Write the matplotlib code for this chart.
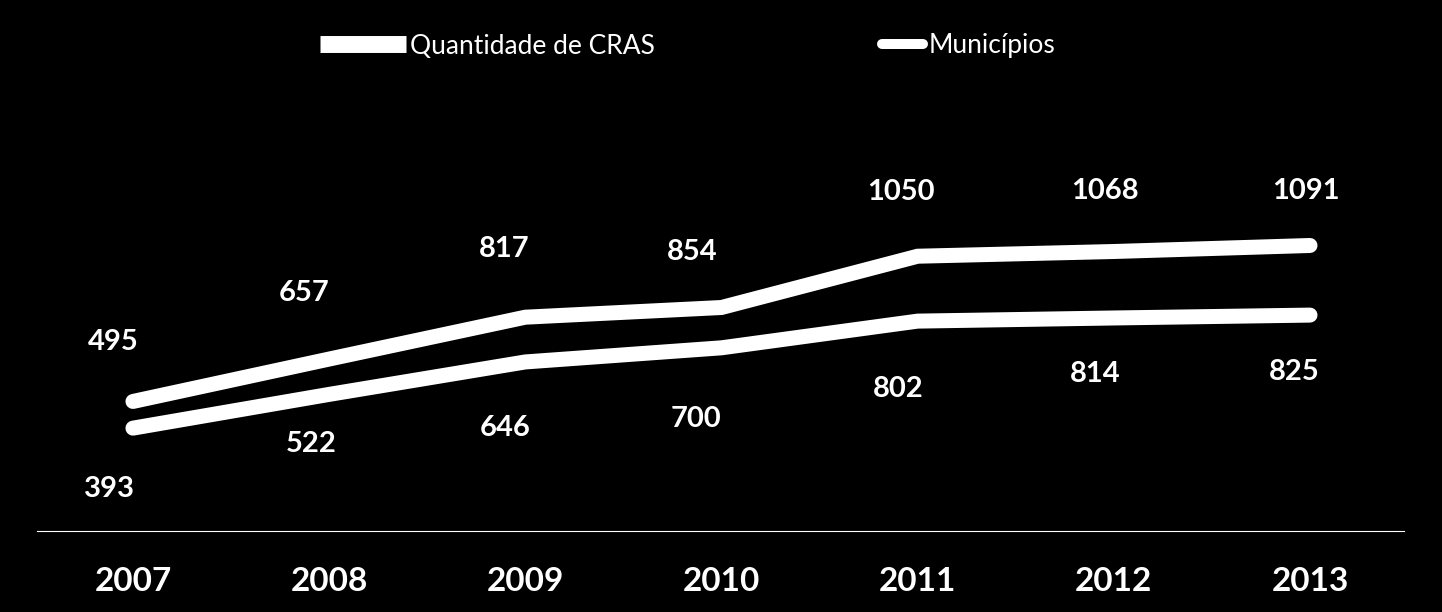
import matplotlib
matplotlib.use('Agg')
import matplotlib.pyplot as plt
from matplotlib.lines import Line2D

# ---- data ----
years = ['2007', '2008', '2009', '2010', '2011', '2012', '2013']
cras = [495, 657, 817, 854, 1050, 1068, 1091]
municipios = [393, 522, 646, 700, 802, 814, 825]
series_names = ['Quantidade de CRAS', 'Municípios']

# ---- label placement (pixel offsets of label centre from the point) ----
cras_dx = [-20, -25, -21, -29, -17, -9, -4]
cras_dy = [62, 69, 71, 58, 67, 63, 57]
mun_dx = [-23, -18, -20, -26, -19, -19, -16]
mun_dy = [-58, -47, -64, -69, -65, -54, -54]

plt.rcParams['font.family'] = ['Lato', 'DejaVu Sans']

W, H = 1442, 612
fig = plt.figure(figsize=(W / 100, H / 100), dpi=100, facecolor='black')
ax_left, ax_right, ax_bottom = 37, 1404, 531
ax = fig.add_axes([ax_left / W, (H - ax_bottom) / H, (ax_right - ax_left) / W, ax_bottom / H],
                  facecolor='black')

x = list(range(len(years)))
line_kw = dict(color='white', lw=10.8, solid_capstyle='round', solid_joinstyle='miter')
ax.plot(x, cras, **line_kw)
ax.plot(x, municipios, **line_kw)

ax.set_xlim(-0.489, 6.479)
ax.set_ylim(0, 531 / 0.2617)

digit_half = 10.5  # px, half digit height (to place by baseline)
for i, v in enumerate(cras):
    ax.annotate(str(v), (i, v), xytext=(cras_dx[i], cras_dy[i] - digit_half),
                textcoords='offset pixels', ha='center', va='baseline',
                color='white', fontsize=21, fontweight='bold')
for i, v in enumerate(municipios):
    ax.annotate(str(v), (i, v), xytext=(mun_dx[i], mun_dy[i] - digit_half),
                textcoords='offset pixels', ha='center', va='baseline',
                color='white', fontsize=21, fontweight='bold')

for s in ['top', 'right', 'left']:
    ax.spines[s].set_visible(False)
ax.spines['bottom'].set_color('white')
ax.spines['bottom'].set_linewidth(0.8)
ax.set_yticks([])
ax.set_xticks(x, years)
ax.tick_params(axis='x', length=0, pad=43.5, labelsize=24, labelcolor='white')
for t in ax.get_xticklabels():
    t.set_fontweight('bold')
    t.set_va('baseline')

# ---- legend (two single-entry legends) ----
fs_px = 19 * 100 / 72
h1 = Line2D([], [], color='white', lw=12.2, solid_capstyle='butt')
h2 = Line2D([], [], color='white', lw=7.2, solid_capstyle='round')
leg_kw = dict(frameon=False, borderpad=0, borderaxespad=0, fontsize=19,
              labelcolor='white', loc='center left')
fig.legend([h1], [series_names[0]], bbox_to_anchor=(320 / W, 1 - 46 / H),
           handlelength=86 / fs_px, handletextpad=4 / fs_px, **leg_kw)
fig.legend([h2], [series_names[1]], bbox_to_anchor=(882 / W, 1 - 46 / H),
           handlelength=41 / fs_px, handletextpad=6 / fs_px, **leg_kw)

fig.savefig('out.png', dpi=100, facecolor='black')
